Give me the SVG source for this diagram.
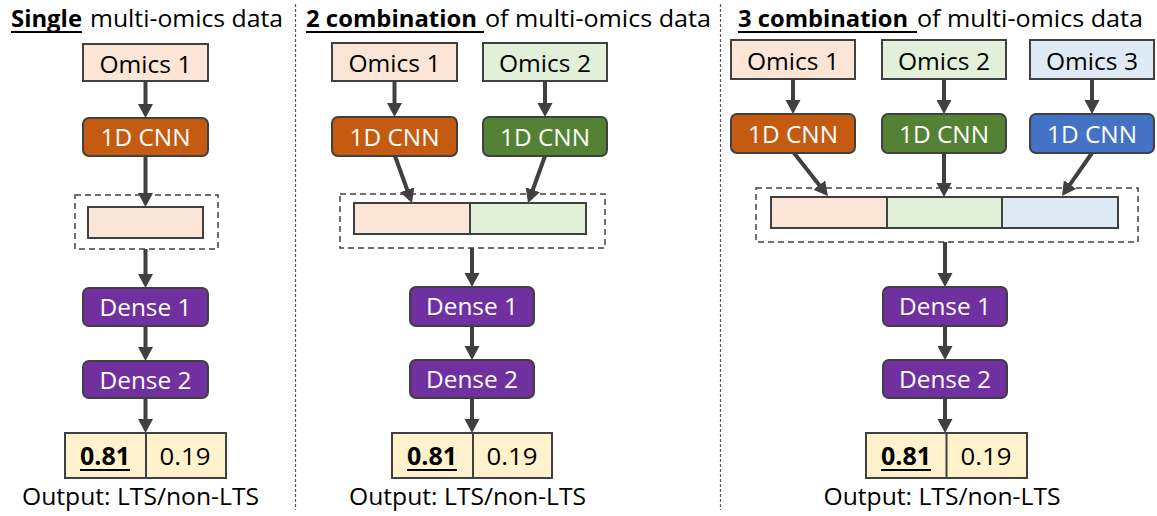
<svg xmlns="http://www.w3.org/2000/svg" width="1157" height="516" viewBox="0 0 1157 516">
  <style>
    text { font-family: "Open Sans", "Noto Sans", "Liberation Sans", sans-serif; fill: #000; }
    .title { font-size: 23px; }
    .b { font-weight: bold; }
    .lbl { font-size: 24.5px; text-anchor: middle; }
    .wt { fill: #fff; }
    .omics { stroke: #404040; stroke-width: 2; }
    .o1 { fill: #FBE5D6; }
    .o2 { fill: #E2F0D9; }
    .o3 { fill: #DEEBF7; }
    .cnn { stroke: #404040; stroke-width: 2; }
    .c1 { fill: #C55A11; }
    .c2 { fill: #548235; }
    .c3 { fill: #4472C4; }
    .dense { fill: #7030A0; stroke: #404040; stroke-width: 2; }
    .out { fill: #FFF2CC; stroke: #404040; stroke-width: 2; }
    .cell { stroke: #404040; stroke-width: 2; }
    .group { fill: none; stroke: #404040; stroke-width: 1.5; stroke-dasharray: 6 4; }
    .divider { stroke: #595959; stroke-width: 1.2; stroke-dasharray: 3 2; }
    .uline { stroke: #000; stroke-width: 2; }
    .arrow { stroke: #404040; stroke-width: 4; fill: none; marker-end: url(#head); }
  </style>
  <defs>
    <marker id="head" markerUnits="userSpaceOnUse" markerWidth="15" markerHeight="16" refX="10" refY="7.5" orient="auto" viewBox="0 0 15 16">
      <path d="M0,0 L14,7.5 L0,15 z" fill="#404040"/>
    </marker>
  </defs>

  <!-- panel dividers -->
  <line class="divider" x1="295.5" y1="4" x2="295.5" y2="510"/>
  <line class="divider" x1="720.5" y1="4" x2="720.5" y2="510"/>

  <!-- panel titles -->
  <g id="title-single">
    <text class="title b" x="11" y="27" textLength="71" lengthAdjust="spacingAndGlyphs">Single</text>
    <text class="title" x="90" y="27" textLength="193" lengthAdjust="spacingAndGlyphs">multi-omics data</text>
    <line class="uline" x1="11" y1="32" x2="82" y2="32"/>
  </g>
  <g id="title-two">
    <text class="title b" x="306" y="27" textLength="171" lengthAdjust="spacingAndGlyphs">2 combination</text>
    <text class="title" x="485" y="27" textLength="226" lengthAdjust="spacingAndGlyphs">of multi-omics data</text>
    <line class="uline" x1="306" y1="32" x2="484" y2="32"/>
  </g>
  <g id="title-three">
    <text class="title b" x="738" y="27" textLength="170" lengthAdjust="spacingAndGlyphs">3 combination</text>
    <text class="title" x="917" y="27" textLength="226" lengthAdjust="spacingAndGlyphs">of multi-omics data</text>
    <line class="uline" x1="738" y1="32" x2="917" y2="32"/>
  </g>

  <!-- connectors -->
  <g id="connectors">
    <!-- single -->
    <line class="arrow" x1="145.5" y1="81" x2="145.5" y2="114"/>
    <line class="arrow" x1="145.5" y1="156" x2="145.5" y2="203"/>
    <line class="arrow" x1="145.5" y1="249" x2="145.5" y2="284"/>
    <line class="arrow" x1="145.5" y1="326" x2="145.5" y2="357"/>
    <line class="arrow" x1="145.5" y1="398" x2="145.5" y2="429"/>
    <!-- two -->
    <line class="arrow" x1="394.5" y1="81" x2="394.5" y2="113"/>
    <line class="arrow" x1="545" y1="81" x2="545" y2="113"/>
    <line class="arrow" x1="395" y1="156" x2="410.6" y2="199.2"/>
    <line class="arrow" x1="545" y1="156" x2="529.4" y2="199.2"/>
    <line class="arrow" x1="472" y1="248" x2="472" y2="283"/>
    <line class="arrow" x1="472" y1="326" x2="472" y2="356"/>
    <line class="arrow" x1="472" y1="398" x2="472" y2="429"/>
    <!-- three -->
    <line class="arrow" x1="793" y1="79" x2="793" y2="110"/>
    <line class="arrow" x1="944" y1="79" x2="944" y2="110"/>
    <line class="arrow" x1="1092" y1="79" x2="1092" y2="110"/>
    <line class="arrow" x1="794" y1="153" x2="825.5" y2="192.9"/>
    <line class="arrow" x1="944" y1="153" x2="944" y2="193"/>
    <line class="arrow" x1="1092" y1="153" x2="1064.3" y2="192.7"/>
    <line class="arrow" x1="945" y1="242" x2="945" y2="283"/>
    <line class="arrow" x1="945" y1="326" x2="945" y2="356"/>
    <line class="arrow" x1="945" y1="398" x2="945" y2="429"/>
  </g>

  <!-- ===== single ===== -->
  <g id="s-omics1">
    <rect class="omics o1" x="83" y="44" width="125" height="37"/>
    <text class="lbl" x="145.5" y="72.5" textLength="92" lengthAdjust="spacingAndGlyphs">Omics 1</text>
  </g>
  <g id="s-cnn1">
    <rect class="cnn c1" x="83" y="118" width="125" height="38" rx="6"/>
    <text class="lbl wt" x="145.5" y="146" textLength="90" lengthAdjust="spacingAndGlyphs">1D CNN</text>
  </g>
  <g id="s-features">
    <rect class="group" x="75" y="195" width="143" height="54"/>
    <rect class="cell o1" x="88" y="207" width="115" height="31"/>
  </g>
  <g id="s-dense1">
    <rect class="dense" x="83" y="288" width="125" height="38" rx="6"/>
    <text class="lbl wt" x="145.5" y="315.5" textLength="92" lengthAdjust="spacingAndGlyphs">Dense 1</text>
  </g>
  <g id="s-dense2">
    <rect class="dense" x="83" y="361" width="125" height="37" rx="6"/>
    <text class="lbl wt" x="145.5" y="388.5" textLength="92" lengthAdjust="spacingAndGlyphs">Dense 2</text>
  </g>
  <g id="s-output">
    <rect class="out" x="65" y="433" width="161" height="45"/>
    <line class="cell" x1="146" y1="433" x2="146" y2="478"/>
    <text class="lbl b" x="105" y="465" textLength="50" lengthAdjust="spacingAndGlyphs">0.81</text>
    <line class="uline" x1="80" y1="470" x2="130" y2="470"/>
    <text class="lbl" x="185" y="465" textLength="51" lengthAdjust="spacingAndGlyphs">0.19</text>
    <text class="lbl" x="140.5" y="505" textLength="237" lengthAdjust="spacingAndGlyphs">Output: LTS/non-LTS</text>
  </g>

  <!-- ===== two ===== -->
  <g id="t-omics1">
    <rect class="omics o1" x="332" y="43" width="125" height="38"/>
    <text class="lbl" x="394.5" y="72" textLength="92" lengthAdjust="spacingAndGlyphs">Omics 1</text>
  </g>
  <g id="t-omics2">
    <rect class="omics o2" x="483" y="43" width="124" height="38"/>
    <text class="lbl" x="545" y="72" textLength="92" lengthAdjust="spacingAndGlyphs">Omics 2</text>
  </g>
  <g id="t-cnn1">
    <rect class="cnn c1" x="332" y="117" width="125" height="39" rx="6"/>
    <text class="lbl wt" x="394.5" y="145.5" textLength="90" lengthAdjust="spacingAndGlyphs">1D CNN</text>
  </g>
  <g id="t-cnn2">
    <rect class="cnn c2" x="483" y="117" width="124" height="39" rx="6"/>
    <text class="lbl wt" x="545" y="145.5" textLength="90" lengthAdjust="spacingAndGlyphs">1D CNN</text>
  </g>
  <g id="t-features">
    <rect class="group" x="340" y="194" width="265" height="54"/>
    <rect class="cell o1" x="354" y="203" width="116" height="31"/>
    <rect class="cell o2" x="470" y="203" width="116" height="31"/>
  </g>
  <g id="t-dense1">
    <rect class="dense" x="410" y="287" width="124" height="39" rx="6"/>
    <text class="lbl wt" x="472" y="315" textLength="92" lengthAdjust="spacingAndGlyphs">Dense 1</text>
  </g>
  <g id="t-dense2">
    <rect class="dense" x="410" y="360" width="124" height="38" rx="6"/>
    <text class="lbl wt" x="472" y="388" textLength="92" lengthAdjust="spacingAndGlyphs">Dense 2</text>
  </g>
  <g id="t-output">
    <rect class="out" x="392" y="433" width="160" height="45"/>
    <line class="cell" x1="473" y1="433" x2="473" y2="478"/>
    <text class="lbl b" x="432" y="465" textLength="50" lengthAdjust="spacingAndGlyphs">0.81</text>
    <line class="uline" x1="407" y1="470" x2="457" y2="470"/>
    <text class="lbl" x="512" y="465" textLength="51" lengthAdjust="spacingAndGlyphs">0.19</text>
    <text class="lbl" x="467.5" y="505" textLength="237" lengthAdjust="spacingAndGlyphs">Output: LTS/non-LTS</text>
  </g>

  <!-- ===== three ===== -->
  <g id="h-omics1">
    <rect class="omics o1" x="731" y="40" width="124" height="39"/>
    <text class="lbl" x="793" y="69.5" textLength="92" lengthAdjust="spacingAndGlyphs">Omics 1</text>
  </g>
  <g id="h-omics2">
    <rect class="omics o2" x="882" y="40" width="124" height="39"/>
    <text class="lbl" x="944" y="69.5" textLength="92" lengthAdjust="spacingAndGlyphs">Omics 2</text>
  </g>
  <g id="h-omics3">
    <rect class="omics o3" x="1030" y="40" width="124" height="39"/>
    <text class="lbl" x="1092" y="69.5" textLength="92" lengthAdjust="spacingAndGlyphs">Omics 3</text>
  </g>
  <g id="h-cnn1">
    <rect class="cnn c1" x="731" y="114" width="124" height="39" rx="6"/>
    <text class="lbl wt" x="793" y="142.5" textLength="90" lengthAdjust="spacingAndGlyphs">1D CNN</text>
  </g>
  <g id="h-cnn2">
    <rect class="cnn c2" x="882" y="114" width="124" height="39" rx="6"/>
    <text class="lbl wt" x="944" y="142.5" textLength="90" lengthAdjust="spacingAndGlyphs">1D CNN</text>
  </g>
  <g id="h-cnn3">
    <rect class="cnn c3" x="1030" y="114" width="124" height="39" rx="6"/>
    <text class="lbl wt" x="1092" y="142.5" textLength="90" lengthAdjust="spacingAndGlyphs">1D CNN</text>
  </g>
  <g id="h-features">
    <rect class="group" x="756" y="188" width="382" height="54"/>
    <rect class="cell o1" x="771" y="197" width="116" height="31"/>
    <rect class="cell o2" x="887" y="197" width="115" height="31"/>
    <rect class="cell o3" x="1002" y="197" width="116" height="31"/>
  </g>
  <g id="h-dense1">
    <rect class="dense" x="883" y="287" width="124" height="39" rx="6"/>
    <text class="lbl wt" x="945" y="315" textLength="92" lengthAdjust="spacingAndGlyphs">Dense 1</text>
  </g>
  <g id="h-dense2">
    <rect class="dense" x="883" y="360" width="124" height="38" rx="6"/>
    <text class="lbl wt" x="945" y="388" textLength="92" lengthAdjust="spacingAndGlyphs">Dense 2</text>
  </g>
  <g id="h-output">
    <rect class="out" x="866" y="433" width="161" height="45"/>
    <line class="cell" x1="946.5" y1="433" x2="946.5" y2="478"/>
    <text class="lbl b" x="906" y="465" textLength="50" lengthAdjust="spacingAndGlyphs">0.81</text>
    <line class="uline" x1="881" y1="470" x2="931" y2="470"/>
    <text class="lbl" x="986" y="465" textLength="51" lengthAdjust="spacingAndGlyphs">0.19</text>
    <text class="lbl" x="942" y="505" textLength="237" lengthAdjust="spacingAndGlyphs">Output: LTS/non-LTS</text>
  </g>
</svg>
